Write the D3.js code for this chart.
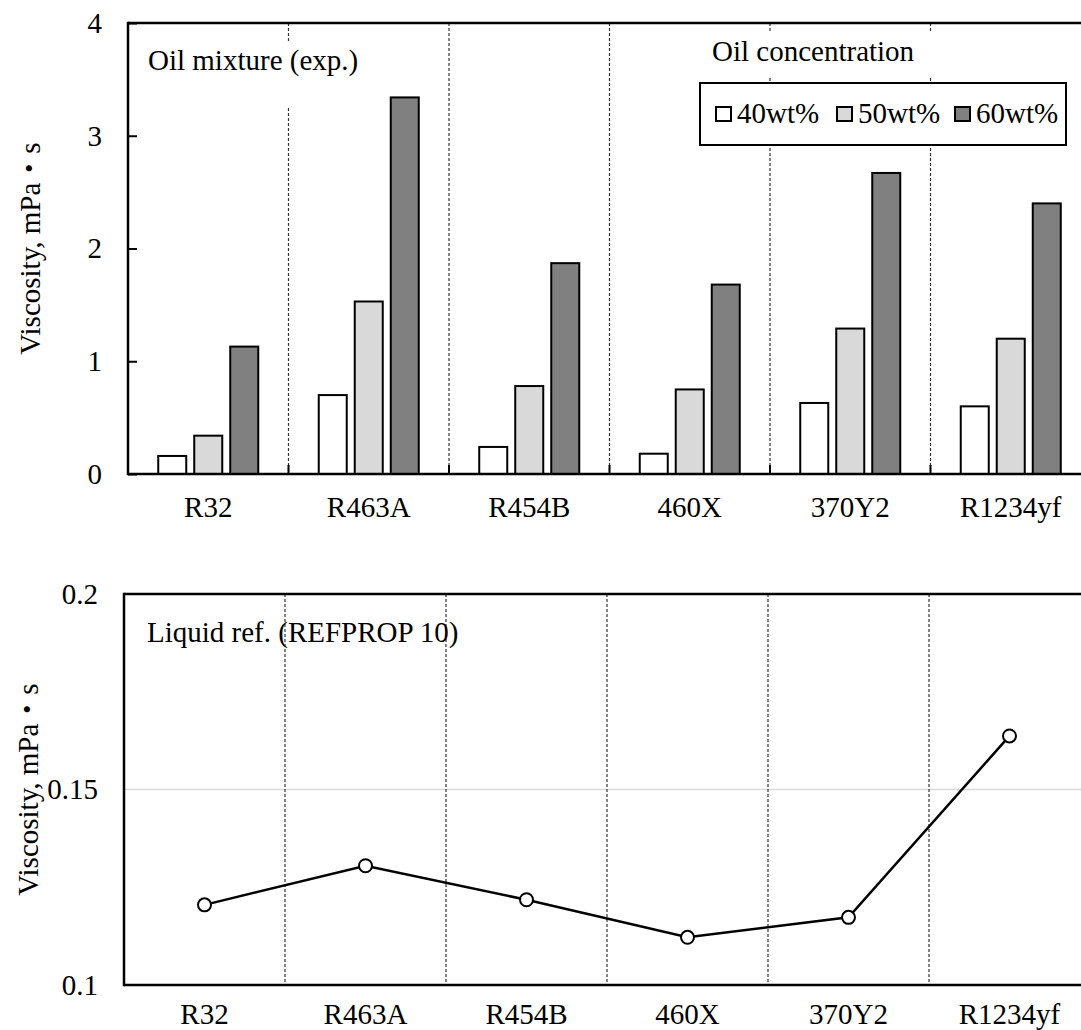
<!DOCTYPE html>
<html>
<head>
<meta charset="utf-8">
<script src="https://cdn.jsdelivr.net/npm/d3@7"></script>
<style>
  html, body { margin: 0; padding: 0; background: #fff; }
  svg text { font-family: "Liberation Serif", "Times New Roman", "Noto Sans CJK JP", serif; fill: #000; }
</style>
</head>
<body>
<svg id="chart" width="1081" height="1030" font-family="Liberation Serif, Noto Sans CJK JP, serif"></svg>
<script>
// Refrigerants compared in both panels
const categories = ["R32", "R463A", "R454B", "460X", "370Y2", "R1234yf"];

// Oil mixture viscosity (experiment), mPa·s, by oil concentration
const seriesNames = ["40wt%", "50wt%", "60wt%"];
const oil40 = [0.16, 0.70, 0.24, 0.18, 0.63, 0.60];
const oil50 = [0.34, 1.53, 0.78, 0.75, 1.29, 1.20];
const oil60 = [1.13, 3.34, 1.87, 1.68, 2.67, 2.40];

// Liquid refrigerant viscosity (REFPROP 10), mPa·s
const liquidRef = [0.1205, 0.1305, 0.1218, 0.1122, 0.1173, 0.1637];

// Axis tick values
const upperTicks = [0, 1, 2, 3, 4];
const lowerTicks = [0.1, 0.15, 0.2];

const seriesFill = ["#ffffff", "#d9d9d9", "#808080"];
const FONT = 29;
const SERIF = "Liberation Serif, Noto Sans CJK JP, serif";

const svg = d3.select("#chart");

// ---------- Upper panel: bars ----------
const up = { left: 128, top: 23, bottom: 474, step: 160.5 };
const xUp = d3.scaleBand().domain(categories)
  .range([up.left, up.left + up.step * categories.length]).padding(0);
const xInner = d3.scaleBand().domain(seriesNames)
  .range([0, xUp.bandwidth()]).paddingInner(0.222).paddingOuter(0.84);
const yUp = d3.scaleLinear().domain([0, 4]).range([up.bottom, up.top]);

const gUp = svg.append("g");

// dashed category separators
gUp.append("g").selectAll("line")
  .data(categories.slice(1))
  .join("line")
  .attr("x1", d => xUp(d)).attr("x2", d => xUp(d))
  .attr("y1", up.top).attr("y2", up.bottom)
  .attr("stroke", "#333").attr("stroke-width", 1.2).attr("stroke-dasharray", "3,2");

// bars
const table = categories.map((c, i) => ({ cat: c, vals: [oil40[i], oil50[i], oil60[i]] }));
gUp.append("g").selectAll("g")
  .data(table)
  .join("g")
  .attr("transform", d => `translate(${xUp(d.cat)},0)`)
  .selectAll("rect")
  .data(d => d.vals.map((v, k) => ({ v, k })))
  .join("rect")
  .attr("x", d => xInner(seriesNames[d.k]))
  .attr("width", xInner.bandwidth())
  .attr("y", d => yUp(d.v))
  .attr("height", d => yUp(0) - yUp(d.v))
  .attr("fill", d => seriesFill[d.k])
  .attr("stroke", "#000").attr("stroke-width", 2);

// panel title with white backing
const t1 = gUp.append("g");
t1.append("rect").attr("x", 140).attr("y", 42).attr("width", 230).attr("height", 66).attr("fill", "#fff");
t1.append("text").attr("x", 148).attr("y", 70).attr("font-size", FONT).attr("font-family", SERIF)
  .text("Oil mixture (exp.)");

// legend title and box
const lg = gUp.append("g");
lg.append("rect").attr("x", 700).attr("y", 32).attr("width", 366).attr("height", 46).attr("fill", "#fff");
lg.append("text").attr("x", 712).attr("y", 61).attr("font-size", FONT).attr("font-family", SERIF)
  .text("Oil concentration");
lg.append("rect").attr("x", 700).attr("y", 83).attr("width", 366).attr("height", 62)
  .attr("fill", "#fff").attr("stroke", "#000").attr("stroke-width", 2);
const legendX = [716, 837, 955];
const items = lg.selectAll("g.item").data(seriesNames).join("g").attr("class", "item")
  .attr("transform", (d, i) => `translate(${legendX[i]},107)`);
items.append("rect").attr("width", 15).attr("height", 14)
  .attr("fill", (d, i) => seriesFill[i]).attr("stroke", "#000").attr("stroke-width", 2);
items.append("text").attr("x", 21).attr("y", 16).attr("font-size", FONT).attr("font-family", SERIF)
  .text(d => d);

// axes
gUp.append("line").attr("x1", up.left).attr("x2", 1081).attr("y1", up.top).attr("y2", up.top)
  .attr("stroke", "#000").attr("stroke-width", 2.5);
const yAxUp = gUp.append("g").attr("transform", `translate(${up.left},0)`)
  .call(d3.axisLeft(yUp).tickValues(upperTicks).tickFormat(d3.format("d")).tickSize(0).tickPadding(26));
yAxUp.attr("font-family", SERIF).attr("font-size", FONT);
yAxUp.select(".domain").remove();
const yInUp = gUp.append("g").attr("transform", `translate(${up.left},0)`)
  .call(d3.axisRight(yUp).tickValues(upperTicks).tickSize(9).tickFormat(""));
yInUp.select(".domain").remove();
yInUp.selectAll("line").attr("stroke", "#000").attr("stroke-width", 2);
// inside ticks at category boundaries
gUp.append("g").selectAll("line").data(categories.slice(1)).join("line")
  .attr("x1", d => xUp(d)).attr("x2", d => xUp(d))
  .attr("y1", up.bottom).attr("y2", up.bottom - 9)
  .attr("stroke", "#000").attr("stroke-width", 2);
gUp.append("line").attr("x1", up.left).attr("x2", up.left).attr("y1", up.top - 1.25).attr("y2", up.bottom + 1.25)
  .attr("stroke", "#000").attr("stroke-width", 2.5);
const xAxUp = gUp.append("g").attr("transform", `translate(0,${up.bottom})`)
  .call(d3.axisBottom(xUp).tickSize(0).tickPadding(22));
xAxUp.attr("font-family", SERIF).attr("font-size", FONT);
xAxUp.select(".domain").attr("stroke-width", 2.5).attr("d", `M${up.left},0H1081`);

gUp.append("text")
  .attr("transform", `translate(40,${(up.top + up.bottom) / 2}) rotate(-90)`)
  .attr("text-anchor", "middle").attr("font-size", FONT).attr("font-family", SERIF)
  .text("Viscosity, mPa\u30FBs");

// ---------- Lower panel: line ----------
const lo = { left: 124, top: 594, bottom: 985, step: 161 };
const xLo = d3.scaleBand().domain(categories)
  .range([lo.left, lo.left + lo.step * categories.length]).padding(0);
const yLo = d3.scaleLinear().domain([0.1, 0.2]).range([lo.bottom, lo.top]);

const gLo = svg.append("g");

// light gridline
gLo.append("g").selectAll("line").data([0.15]).join("line")
  .attr("x1", lo.left).attr("x2", 1081)
  .attr("y1", d => yLo(d)).attr("y2", d => yLo(d))
  .attr("stroke", "#d9d9d9").attr("stroke-width", 1.5);

gLo.append("g").selectAll("line")
  .data(categories.slice(1))
  .join("line")
  .attr("x1", d => xLo(d)).attr("x2", d => xLo(d))
  .attr("y1", lo.top).attr("y2", lo.bottom)
  .attr("stroke", "#333").attr("stroke-width", 1.2).attr("stroke-dasharray", "3,2");

gLo.append("text").attr("x", 147).attr("y", 642).attr("font-size", FONT).attr("font-family", SERIF)
  .text("Liquid ref. (REFPROP 10)");

const cx = (d, i) => xLo(categories[i]) + xLo.bandwidth() / 2;
gLo.append("path")
  .datum(liquidRef)
  .attr("fill", "none").attr("stroke", "#000").attr("stroke-width", 2.5)
  .attr("d", d3.line().x(cx).y(d => yLo(d)));
gLo.append("g").selectAll("circle").data(liquidRef).join("circle")
  .attr("cx", cx).attr("cy", d => yLo(d)).attr("r", 6.5)
  .attr("fill", "#fff").attr("stroke", "#000").attr("stroke-width", 2);

gLo.append("line").attr("x1", lo.left).attr("x2", 1081).attr("y1", lo.top).attr("y2", lo.top)
  .attr("stroke", "#000").attr("stroke-width", 2.5);
const yAxLo = gLo.append("g").attr("transform", `translate(${lo.left},0)`)
  .call(d3.axisLeft(yLo).tickValues(lowerTicks).tickFormat(d => String(+d.toFixed(2))).tickSize(0).tickPadding(26));
yAxLo.attr("font-family", SERIF).attr("font-size", FONT);
yAxLo.select(".domain").remove();
gLo.append("line").attr("x1", lo.left).attr("x2", lo.left).attr("y1", lo.top - 1.25).attr("y2", lo.bottom + 1.25)
  .attr("stroke", "#000").attr("stroke-width", 2.5);
const xAxLo = gLo.append("g").attr("transform", `translate(0,${lo.bottom})`)
  .call(d3.axisBottom(xLo).tickSize(0).tickPadding(18));
xAxLo.attr("font-family", SERIF).attr("font-size", FONT);
xAxLo.select(".domain").attr("stroke-width", 2.5).attr("d", `M${lo.left},0H1081`);

gLo.append("text")
  .attr("transform", `translate(38,${(lo.top + lo.bottom) / 2}) rotate(-90)`)
  .attr("text-anchor", "middle").attr("font-size", FONT).attr("font-family", SERIF)
  .text("Viscosity, mPa\u30FBs");
</script>
</body>
</html>
